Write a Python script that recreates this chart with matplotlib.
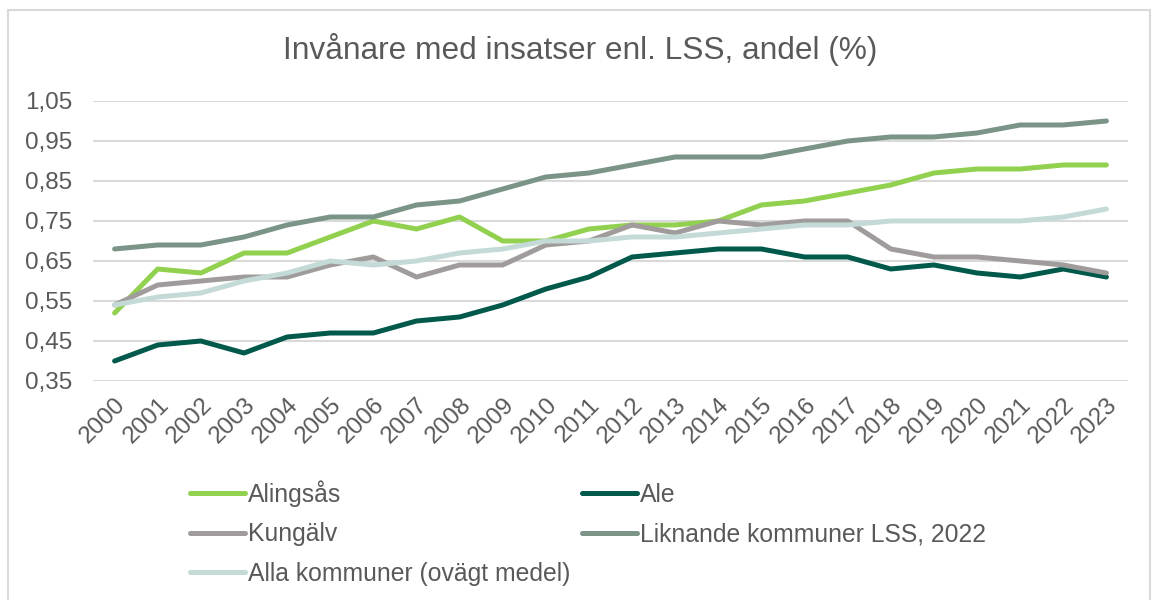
import matplotlib.pyplot as plt
from matplotlib.patches import Rectangle
from matplotlib.ticker import FixedLocator

plt.rcParams['font.family'] = ['Liberation Sans', 'DejaVu Sans']

years = [str(y) for y in range(2000, 2024)]

alingsas = [0.52, 0.63, 0.62, 0.67, 0.67, 0.71, 0.75, 0.73, 0.76, 0.70, 0.70, 0.73,
            0.74, 0.74, 0.75, 0.79, 0.80, 0.82, 0.84, 0.87, 0.88, 0.88, 0.89, 0.89]
ale = [0.40, 0.44, 0.45, 0.42, 0.46, 0.47, 0.47, 0.50, 0.51, 0.54, 0.58, 0.61,
       0.66, 0.67, 0.68, 0.68, 0.66, 0.66, 0.63, 0.64, 0.62, 0.61, 0.63, 0.61]
kungalv = [0.54, 0.59, 0.60, 0.61, 0.61, 0.64, 0.66, 0.61, 0.64, 0.64, 0.69, 0.70,
           0.74, 0.72, 0.75, 0.74, 0.75, 0.75, 0.68, 0.66, 0.66, 0.65, 0.64, 0.62]
liknande = [0.68, 0.69, 0.69, 0.71, 0.74, 0.76, 0.76, 0.79, 0.80, 0.83, 0.86, 0.87,
            0.89, 0.91, 0.91, 0.91, 0.93, 0.95, 0.96, 0.96, 0.97, 0.99, 0.99, 1.00]
alla = [0.54, 0.56, 0.57, 0.60, 0.62, 0.65, 0.64, 0.65, 0.67, 0.68, 0.70, 0.70,
        0.71, 0.71, 0.72, 0.73, 0.74, 0.74, 0.75, 0.75, 0.75, 0.75, 0.76, 0.78]

yticks = [0.35, 0.45, 0.55, 0.65, 0.75, 0.85, 0.95, 1.05]

txt = '#595959'
grid = '#D9D9D9'

fig = plt.figure(figsize=(11.53, 6.0), dpi=100)
ax = fig.add_axes([0.0807, 0.365, 0.8976, 0.4667])

# kantlinje runt diagrammet
fig.patches.append(Rectangle((8 / 1153, -0.05), 1142 / 1153, 1.05 - 10 / 600,
                             transform=fig.transFigure, fill=False,
                             edgecolor=grid, lw=1.5))

x = list(range(len(years)))
serier = [
    ('Alingsås', alingsas, '#92D050'),
    ('Ale', ale, '#00594A'),
    ('Kungälv', kungalv, '#A09C9C'),
    ('Liknande kommuner LSS, 2022', liknande, '#7B9488'),
    ('Alla kommuner (ovägt medel)', alla, '#C3DAD7'),
]
linjer = {}
for namn, vals, farg in serier:
    l, = ax.plot(x, vals, color=farg, lw=3.6, solid_capstyle='round',
                 solid_joinstyle='round', label=namn)
    linjer[namn] = l

ax.set_xlim(-0.5, len(years) - 0.5)
ax.set_ylim(0.35, 1.05)
ax.yaxis.set_major_locator(FixedLocator(yticks))
ax.set_yticklabels([f'{v:.2f}'.replace('.', ',') for v in yticks])
ax.set_xticks(x)
ax.set_xticklabels(years, rotation=45, ha='right', va='top', rotation_mode='anchor')
ax.tick_params(axis='both', length=0, colors=txt)
ax.tick_params(axis='y', pad=15, labelsize=17.5)
ax.tick_params(axis='x', pad=9, labelsize=17.5)
ax.grid(axis='y', color=grid, lw=1.5)
ax.set_axisbelow(True)
for s in ax.spines.values():
    s.set_visible(False)

fig.text(0.503, 0.918, 'Invånare med insatser enl. LSS, andel (%)', ha='center',
         va='center', fontsize=22.8, color=txt)

# ordning för två kolumner (kolumnvis i matplotlib)
ordning = ['Alingsås', 'Kungälv', 'Alla kommuner (ovägt medel)', 'Ale',
           'Liknande kommuner LSS, 2022']
leg = fig.legend([linjer[n] for n in ordning], ordning, ncol=2, frameon=False,
                 loc='upper left', bbox_to_anchor=(0.1565, 0.216), fontsize=17.8,
                 handlelength=2.2, handletextpad=0.12, labelspacing=0.62,
                 columnspacing=0.5, borderaxespad=0)
for t in leg.get_texts():
    t.set_color(txt)

fig.savefig('out.png', dpi=100)
